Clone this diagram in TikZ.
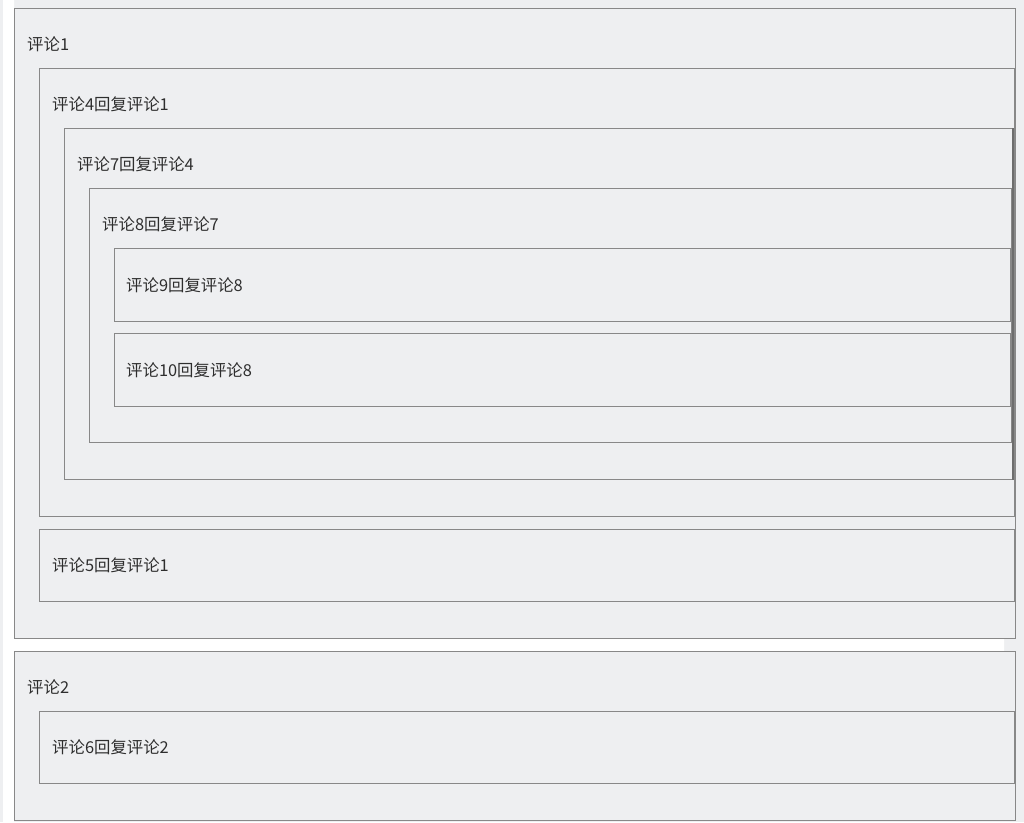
\documentclass[tikz,border=0pt]{standalone}
\usepackage{fontspec}
\usepackage{tikz}
\newfontfamily\cjk{Noto Sans CJK SC}
\definecolor{boxfill}{HTML}{EEEFF1}
\definecolor{boxline}{HTML}{888888}
\definecolor{textgray}{HTML}{2E2E2E}
\newcommand{\cmt}[1]{评论#1}
\newcommand{\reply}[2]{评论#1回复评论#2}
\tikzset{
	cbox/.style={draw=boxline, fill=boxfill, line width=1pt, inner sep=0pt, anchor=north west},
	lbl/.style={anchor=west, inner sep=0pt, text=textgray, font=\cjk\fontsize{16.4}{17}\selectfont}
}
\begin{document}
\begin{tikzpicture}[x=1pt, y=-1pt]
			\useasboundingbox[fill=boxfill] (0,0) rectangle (1024,822);
			\fill[white] (3,0) rectangle (14,822) (3,638) rectangle (1004,651);
			\node[cbox, minimum width=1001pt, minimum height=630pt] (c1) at (14,8) {};
			\node[cbox, minimum width=975pt, minimum height=448pt] (c4) at (39,68) {};
			\node[cbox, minimum width=948pt, minimum height=351pt] (c7) at (64,128) {};
			\node[cbox, minimum width=922pt, minimum height=254pt] (c8) at (89,188) {};
			\node[cbox, minimum width=896pt, minimum height=73pt] (c9) at (114,248) {};
			\node[cbox, minimum width=896pt, minimum height=73pt] (c10) at (114,333) {};
			\node[cbox, minimum width=975pt, minimum height=72pt] (c5) at (39,529) {};
			\node[cbox, minimum width=1001pt, minimum height=169pt] (c2) at (14,651) {};
			\node[cbox, minimum width=975pt, minimum height=72pt] (c6) at (39,711) {};
			\draw[boxline!80!black, line width=2.5pt] (c7.north east) -- (c7.south east);
			\node[lbl] (t1) at ([xshift=13pt, yshift=-36pt]c1.north west) {\cmt{1}};
			\node[lbl] (t4) at ([xshift=13pt, yshift=-36pt]c4.north west) {\reply{4}{1}};
			\node[lbl] (t7) at ([xshift=13pt, yshift=-36pt]c7.north west) {\reply{7}{4}};
			\node[lbl] (t8) at ([xshift=13pt, yshift=-36pt]c8.north west) {\reply{8}{7}};
			\node[lbl] (t9) at ([xshift=12pt]c9.west) {\reply{9}{8}};
			\node[lbl] (t10) at ([xshift=12pt]c10.west) {\reply{10}{8}};
			\node[lbl] (t5) at ([xshift=13pt]c5.west) {\reply{5}{1}};
			\node[lbl] (t2) at ([xshift=13pt, yshift=-36pt]c2.north west) {\cmt{2}};
			\node[lbl] (t6) at ([xshift=13pt]c6.west) {\reply{6}{2}};
		\end{tikzpicture}
\end{document}
